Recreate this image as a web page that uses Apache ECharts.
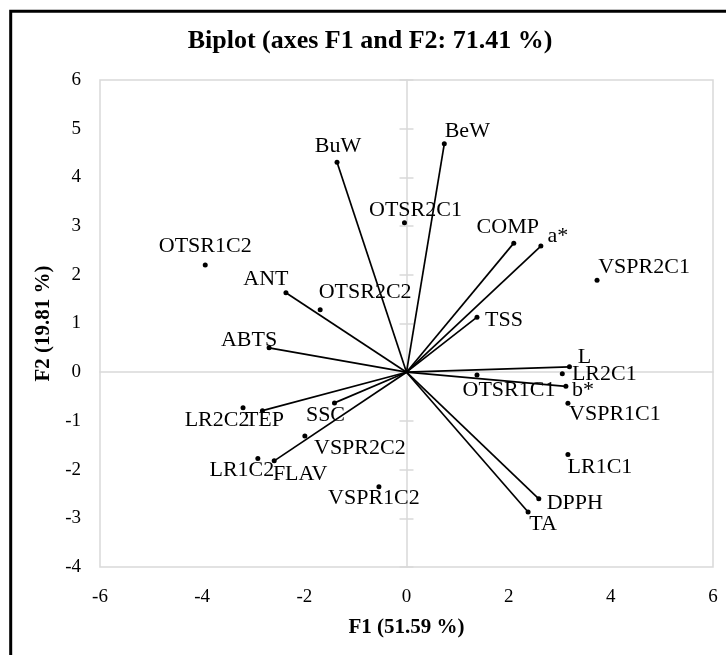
<!DOCTYPE html>
<html>
<head>
<meta charset="utf-8">
<script src="https://cdn.jsdelivr.net/npm/echarts@6/dist/echarts.min.js"></script>
<style>html,body{margin:0;padding:0;background:#fff}#c{width:726px;height:655px}</style>
</head>
<body>
<div id="c"></div>
<script>
// ---- Data ----
const titleText = 'Biplot (axes F1 and F2: 71.41 %)';
const xName = 'F1 (51.59 %)';
const yName = 'F2 (19.81 %)';
const xTicks = [-6, -4, -2, 0, 2, 4, 6];
const yTicks = [-4, -3, -2, -1, 0, 1, 2, 3, 4, 5, 6];

// Variables (vectors from origin)
const varNames = ['BuW', 'BeW', 'COMP', 'a*', 'TSS', 'L', 'b*', 'DPPH', 'TA', 'FLAV', 'SSC', 'TEP', 'ABTS', 'ANT'];
const varF1 = [-1.36, 0.74, 2.10, 2.63, 1.38, 3.19, 3.12, 2.59, 2.38, -2.59, -1.41, -2.82, -2.69, -2.36];
const varF2 = [4.31, 4.69, 2.65, 2.59, 1.13, 0.11, -0.29, -2.60, -2.87, -1.82, -0.63, -0.79, 0.50, 1.63];

// Observations (points only)
const obsNames = ['OTSR1C2', 'OTSR2C2', 'OTSR2C1', 'VSPR2C1', 'LR2C1', 'OTSR1C1', 'VSPR1C1', 'LR1C1', 'LR2C2', 'VSPR2C2', 'LR1C2', 'VSPR1C2'];
const obsF1 = [-3.94, -1.69, -0.04, 3.73, 3.05, 1.38, 3.16, 3.16, -3.20, -1.99, -2.91, -0.54];
const obsF2 = [2.20, 1.28, 3.07, 1.89, -0.03, -0.06, -0.64, -1.69, -0.73, -1.31, -1.77, -2.35];

// ---- Layout: label offsets (px) from each dot ----
const labelOffset = {
  'BuW': [1, -16], 'BeW': [23, -13], 'COMP': [-6, -16], 'a*': [17, -10], 'TSS': [27, 3],
  'L': [15, -10], 'b*': [17, 4], 'DPPH': [36, 4], 'TA': [15, 12], 'FLAV': [26, 13],
  'SSC': [-9, 12], 'TEP': [2, 10], 'ABTS': [-20, -8], 'ANT': [-20, -14],
  'OTSR1C2': [0, -19], 'OTSR2C2': [45, -18], 'OTSR2C1': [11, -12], 'VSPR2C1': [47, -13],
  'LR2C1': [42, 1], 'OTSR1C1': [32, 15], 'VSPR1C1': [47, 11], 'LR1C1': [32, 13],
  'LR2C2': [-26, 12], 'VSPR2C2': [55, 12], 'LR1C2': [-16, 12], 'VSPR1C2': [-5, 12]
};

const FONT = 'Liberation Serif, Times New Roman, serif';
const GRIDC = '#d9d9d9';

const allNames = varNames.concat(obsNames);
const allItems = varNames.map((n, i) => ({ name: n, value: [varF1[i], varF2[i]] }))
  .concat(obsNames.map((n, i) => ({ name: n, value: [obsF1[i], obsF2[i]] })));

const chart = echarts.init(document.getElementById('c'), null, { renderer: 'canvas' });

const option = {
  animation: false,
  backgroundColor: '#fff',
  grid: { left: 100, right: 13, top: 80, bottom: 88, show: true, borderColor: GRIDC, borderWidth: 1.5, containLabel: false },
  graphic: [
    { type: 'rect', shape: { x: 10.7, y: 11.3, width: 760, height: 700 }, style: { fill: 'none', stroke: '#000', lineWidth: 3 }, silent: true },
    { type: 'text', x: 370, y: 41, style: { text: titleText, font: 'bold 26px ' + FONT, fill: '#000', align: 'center', verticalAlign: 'middle' } }
  ],
  xAxis: [
    {
      type: 'value', min: xTicks[0], max: xTicks[xTicks.length - 1], interval: 2,
      axisLine: { show: false, onZero: false }, axisTick: { show: false }, splitLine: { show: false },
      axisLabel: { fontFamily: FONT, fontSize: 19, color: '#000', margin: 21 },
      name: xName, nameLocation: 'middle', nameGap: 61,
      nameTextStyle: { fontFamily: FONT, fontSize: 21, fontWeight: 'bold', color: '#000', verticalAlign: 'middle' }
    },
    {
      type: 'value', min: xTicks[0], max: xTicks[xTicks.length - 1], interval: 2, position: 'bottom',
      axisLine: { show: true, onZero: true, onZeroAxisIndex: 0, lineStyle: { color: GRIDC, width: 1.5 } },
      axisTick: { show: false }, axisLabel: { show: false }, splitLine: { show: false }
    }
  ],
  yAxis: [
    {
      type: 'value', min: yTicks[0], max: yTicks[yTicks.length - 1], interval: 1,
      axisLine: { show: false, onZero: false }, axisTick: { show: false }, splitLine: { show: false },
      axisLabel: { fontFamily: FONT, fontSize: 19, color: '#000', margin: 19 },
      name: yName, nameLocation: 'middle', nameGap: 55, nameRotate: 90,
      nameTextStyle: { fontFamily: FONT, fontSize: 21, fontWeight: 'bold', color: '#000', verticalAlign: 'middle' }
    },
    {
      type: 'value', min: yTicks[0], max: yTicks[yTicks.length - 1], interval: 1, position: 'left',
      axisLine: { show: true, onZero: true, onZeroAxisIndex: 0, lineStyle: { color: GRIDC, width: 1.5 } },
      axisTick: { show: true, length: 7, lineStyle: { color: GRIDC, width: 1.5 } },
      axisLabel: { show: false }, splitLine: { show: false }
    },
    {
      type: 'value', min: yTicks[0], max: yTicks[yTicks.length - 1], interval: 1, position: 'left',
      axisLine: { show: false, onZero: true, onZeroAxisIndex: 0 },
      axisTick: { show: true, inside: true, length: 7, lineStyle: { color: GRIDC, width: 1.5 } },
      axisLabel: { show: false }, splitLine: { show: false }
    }
  ],
  series: [
    {
      type: 'lines', coordinateSystem: 'cartesian2d', xAxisIndex: 0, yAxisIndex: 0,
      silent: true, z: 3,
      lineStyle: { color: '#000', width: 1.7, opacity: 1 },
      data: varNames.map((n, i) => ({ coords: [[0, 0], [varF1[i], varF2[i]]] }))
    },
    {
      type: 'scatter', xAxisIndex: 0, yAxisIndex: 0, z: 4,
      symbol: 'circle', symbolSize: 5,
      itemStyle: { color: '#000', opacity: 1 },
      label: {
        show: true, position: 'inside', formatter: '{b}',
        fontFamily: FONT, fontSize: 22, color: '#000', opacity: 1,
        align: 'center', verticalAlign: 'middle', textBorderWidth: 0
      },
      labelLayout: function (p) {
        const off = labelOffset[allNames[p.dataIndex]] || [0, 0];
        return { dx: off[0], dy: off[1], hideOverlap: false };
      },
      data: allItems
    }
  ]
};
chart.setOption(option);
</script>
</body>
</html>
